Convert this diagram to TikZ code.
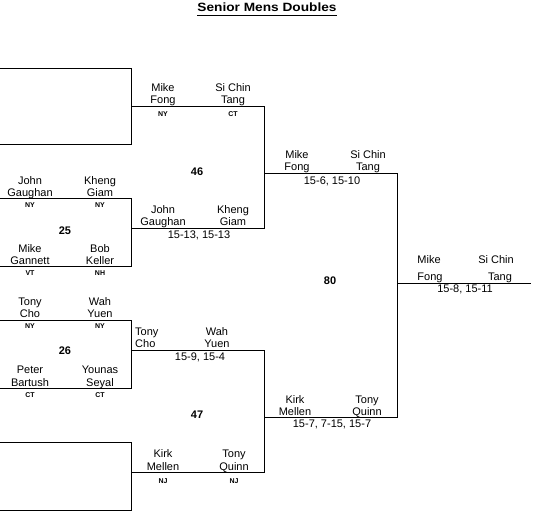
\documentclass[tikz,border=0pt]{standalone}
\usepackage{fontspec}
\setmainfont{Liberation Sans}
\begin{document}
\begin{tikzpicture}[x=1pt,y=-1pt,
  br/.style={draw=black,line width=1pt},
  nm/.style={font=\fontsize{11}{13}\selectfont,inner sep=0,anchor=base},
  nml/.style={nm,anchor=base west},
  st/.style={font=\bfseries\fontsize{7}{8}\selectfont,inner sep=0,anchor=base},
  sc/.style={font=\fontsize{11}{13}\selectfont,inner sep=0,anchor=base},
  mn/.style={font=\bfseries\fontsize{11}{13}\selectfont,inner sep=0,anchor=base},
  ttl/.style={font=\bfseries\fontsize{12}{14}\selectfont,inner sep=0,anchor=base}]
\useasboundingbox (0,0) rectangle (537,522);
% title
\node[ttl] (title) at (267,12) {\scalebox{1.14}[1]{Senior Mens Doubles}};
\draw[line width=1.2pt] ([yshift=-3.5pt]title.base west) -- ([yshift=-3.5pt]title.base east);
% coordinates
\coordinate (b1t) at (0,68);   \coordinate (b1b) at (0,144);
\coordinate (b2t) at (0,198);  \coordinate (b2b) at (0,266);
\coordinate (b3t) at (0,320);  \coordinate (b3b) at (0,388);
\coordinate (b4t) at (0,442);  \coordinate (b4b) at (0,510);
\coordinate (r2a) at (131,106); \coordinate (r2b) at (131,228);
\coordinate (r2c) at (131,350); \coordinate (r2d) at (131,472);
\coordinate (r3a) at (264,173); \coordinate (r3b) at (264,417);
\coordinate (fin) at (397,283); \coordinate (finend) at (531,283);
% round 1 boxes
\draw[br] (b1t) -| (131,144) -- (b1b);
\draw[br] (b2t) -| (131,266) -- (b2b);
\draw[br] (b3t) -| (131,388) -- (b3b);
\draw[br] (b4t) -| (131,510) -- (b4b);
% round 2
\draw[br] (r2a) -| (264,228) -- (r2b);
\draw[br] (r2c) -| (264,472) -- (r2d);
% round 3
\draw[br] (r3a) -| (397,417) -- (r3b);
% final
\draw[br] (fin) -- (finend);
% ---- top bye: Fong / Tang
\node[nm] (t1a) at (163,91) {Mike};
\node[nm] (t1b) at (163,103) {Fong};
\node[st] (t1c) at (163,116) {NY};
\node[nm] (t2a) at (233,91) {Si Chin};
\node[nm] (t2b) at (233,103) {Tang};
\node[st] (t2c) at (233,116) {CT};
\node[mn] (m46) at (197,175) {46};
% ---- match 25
\node[nm] (a1a) at (30,184) {John};
\node[nm] (a1b) at (30,196) {Gaughan};
\node[st] (a1c) at (30,207) {NY};
\node[nm] (a2a) at (100,184) {Kheng};
\node[nm] (a2b) at (100,196) {Giam};
\node[st] (a2c) at (100,207) {NY};
\node[mn] (m25) at (65,234) {25};
\node[nm] (a3a) at (30,252) {Mike};
\node[nm] (a3b) at (30,264) {Gannett};
\node[st] (a3c) at (30,275) {VT};
\node[nm] (a4a) at (100,252) {Bob};
\node[nm] (a4b) at (100,264) {Keller};
\node[st] (a4c) at (100,275) {NH};
% winner 25
\node[nm] (w25a) at (163,213) {John};
\node[nm] (w25b) at (163,225) {Gaughan};
\node[nm] (w25c) at (233,213) {Kheng};
\node[nm] (w25d) at (233,225) {Giam};
\node[sc] (s25) at (199,238) {15-13, 15-13};
% winner 46
\node[nm] (w46a) at (297,158) {Mike};
\node[nm] (w46b) at (297,170) {Fong};
\node[nm] (w46c) at (368,158) {Si Chin};
\node[nm] (w46d) at (368,170) {Tang};
\node[sc] (s46) at (332,184) {15-6, 15-10};
% final
\node[mn] (m80) at (330,284) {80};
\node[nm] (fa) at (429,263) {Mike};
\node[nm] (fb) at (430,280) {Fong};
\node[nm] (fc) at (496,263) {Si Chin};
\node[nm] (fd) at (500,280) {Tang};
\node[sc] (s80) at (465,292) {15-8, 15-11};
% ---- match 26
\node[nm] (c1a) at (30,305) {Tony};
\node[nm] (c1b) at (30,317) {Cho};
\node[st] (c1c) at (30,328) {NY};
\node[nm] (c2a) at (100,305) {Wah};
\node[nm] (c2b) at (100,317) {Yuen};
\node[st] (c2c) at (100,328) {NY};
\node[mn] (m26) at (65,354) {26};
\node[nm] (c3a) at (30,373) {Peter};
\node[nm] (c3b) at (30,386) {Bartush};
\node[st] (c3c) at (30,397) {CT};
\node[nm] (c4a) at (100,373) {Younas};
\node[nm] (c4b) at (100,386) {Seyal};
\node[st] (c4c) at (100,397) {CT};
% winner 26
\node[nml] (w26a) at (135,335) {Tony};
\node[nml] (w26b) at (135,347) {Cho};
\node[nm] (w26c) at (217,335) {Wah};
\node[nm] (w26d) at (217,347) {Yuen};
\node[sc] (s26) at (200,360) {15-9, 15-4};
\node[mn] (m47) at (197,418) {47};
% bottom bye: Mellen / Quinn
\node[nm] (d1a) at (163,457) {Kirk};
\node[nm] (d1b) at (163,470) {Mellen};
\node[st] (d1c) at (163,483) {NJ};
\node[nm] (d2a) at (234,457) {Tony};
\node[nm] (d2b) at (234,470) {Quinn};
\node[st] (d2c) at (234,483) {NJ};
% winner 47
\node[nm] (w47a) at (295,403) {Kirk};
\node[nm] (w47b) at (295,415) {Mellen};
\node[nm] (w47c) at (367,403) {Tony};
\node[nm] (w47d) at (367,415) {Quinn};
\node[sc] (s47) at (332,427) {15-7, 7-15, 15-7};
\end{tikzpicture}
\end{document}
